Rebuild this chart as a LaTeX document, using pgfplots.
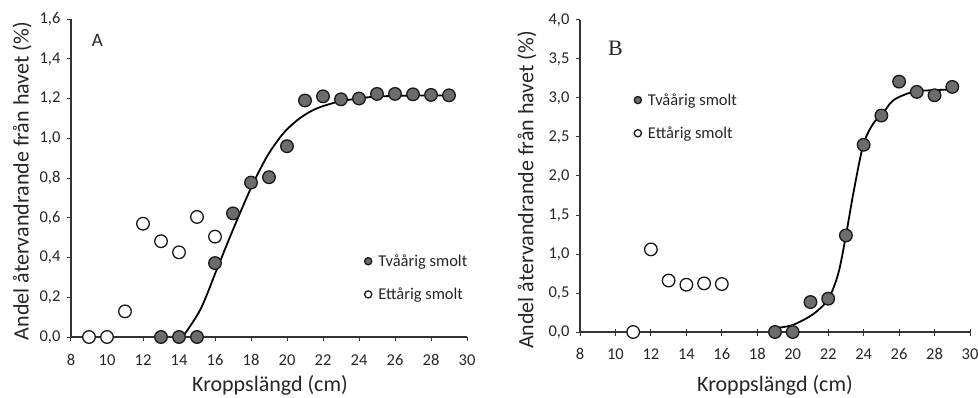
\documentclass[border=0pt]{standalone}
\usepackage{pgfplots}
\pgfplotsset{compat=1.18}
\usepackage{fontspec}
\setmainfont{Carlito}
\newfontfamily\serifB{Liberation Serif}
\definecolor{markgray}{RGB}{108,108,108}
\definecolor{txt}{RGB}{38,38,38}
\pgfplotsset{
  panel/.style={
    scale only axis, clip=false,
    axis x line=bottom, axis y line=left,
    axis line style={-, draw=black!80, line width=1.1pt},
    every tick/.style={black!80, line width=1pt},
    tick align=outside, major tick length=4pt,
    xmin=8, xmax=30, xtick={8,10,...,30}, ymin=0,
    /pgf/number format/assume math mode=true,
    tick label style={font=\fontsize{16.5}{16.5}\selectfont, text=txt},
    label style={font=\fontsize{22}{22}\selectfont, text=txt},
    yticklabel style={xshift=-3pt, /pgf/number format/.cd, fixed, fixed zerofill, precision=1, use comma},
    xlabel={Kroppslängd (cm)},
    ylabel={Andel återvandrande från havet (\%)},
    legend image code/.code={\draw[#1, mark size=3.6pt] plot coordinates {(0pt,0pt)};},
    legend style={draw=none, fill=none, inner sep=0pt, row sep=17pt, column sep=5pt,
      font=\fontsize{16.5}{16.5}\selectfont, text=txt,
      nodes={inner sep=1.5pt}},
    legend cell align=left,
  },
  tvo/.style={only marks, mark=*, mark size=6.3pt, mark options={fill=markgray, draw=black!90, line width=1.3pt}},
  ett/.style={only marks, mark=*, mark size=6.3pt, mark options={fill=white, draw=black!90, line width=1.3pt}},
  fit/.style={black, line width=1.8pt, smooth, forget plot},
}
\begin{document}
\begin{tikzpicture}
\useasboundingbox (0,0) rectangle (978pt,397pt);
% Panel A
\begin{axis}[panel, at={(71pt,60pt)}, anchor=south west, width=396pt, height=318pt,
  ymax=1.6, ytick={0,0.2,0.4,0.6,0.8,1.0,1.2,1.4,1.6},
  xticklabel style={yshift=-10pt},
  xlabel style={at={(axis description cs:0.5025,-0.153)}, anchor=center},
  ylabel style={at={(axis description cs:-0.1237,0.49)}, anchor=center},
  legend style={at={(axis cs:24.3,0.423)}, anchor=north west}]
\addplot[fit] coordinates {(14.2,0.0) (15.2,0.14) (16.1,0.34) (17.0,0.54) (18.0,0.75) (18.9,0.91) (19.8,1.025) (20.7,1.10) (21.65,1.15) (22.9,1.185) (24,1.20) (25,1.21) (27,1.215) (29,1.215)};
\addplot[tvo] coordinates {(13,0) (14,0) (15,0) (16,0.372) (17,0.622) (18,0.777) (19,0.804) (20,0.96) (21,1.19) (22,1.211) (23,1.196) (24,1.20) (25,1.223) (26,1.223) (27,1.221) (28,1.218) (29,1.216)};
\addlegendentry{Tvåårig smolt}
\addplot[ett] coordinates {(9,0) (10,0) (11,0.129) (12,0.570) (13,0.482) (14,0.426) (15,0.604) (16,0.505)};
\addlegendentry{Ettårig smolt}
\node[anchor=west, inner sep=0pt, font=\fontsize{19}{19}\selectfont, text=txt] at (axis cs:9.15,1.494) {A};
\end{axis}
% Panel B
\begin{axis}[panel, at={(580pt,65pt)}, anchor=south west, width=390pt, height=312pt,
  ymax=4, ytick={0,0.5,1.0,1.5,2.0,2.5,3.0,3.5,4.0},
  xtick style={/pgfplots/tick align=center, /pgfplots/major tick length=7pt},
  xticklabel style={yshift=-9pt},
  xlabel style={at={(axis description cs:0.5,-0.172)}, anchor=center},
  ylabel style={at={(axis description cs:-0.136,0.455)}, anchor=center},
  legend style={at={(axis cs:11.05,3.08)}, anchor=north west}]
\addplot[fit] coordinates {(19.0,0.05) (20.0,0.09) (21.16,0.23) (22.0,0.42) (22.57,0.75) (23.0,1.235) (23.42,1.78) (23.98,2.40) (24.55,2.675) (25.02,2.78) (25.67,2.97) (26.8,3.08) (27.93,3.10) (29.06,3.11)};
\addplot[tvo] coordinates {(19,0) (20,0) (21,0.384) (22,0.427) (23,1.238) (24,2.40) (25,2.775) (26,3.21) (27,3.078) (28,3.035) (29,3.142)};
\addlegendentry{Tvåårig smolt}
\addplot[ett] coordinates {(11,0) (12,1.059) (13,0.66) (14,0.606) (15,0.623) (16,0.615)};
\addlegendentry{Ettårig smolt}
\node[anchor=west, inner sep=0pt, font=\serifB\fontsize{22}{22}\selectfont, text=txt] at (axis cs:9.58,3.64) {B};
\end{axis}
\end{tikzpicture}
\end{document}
